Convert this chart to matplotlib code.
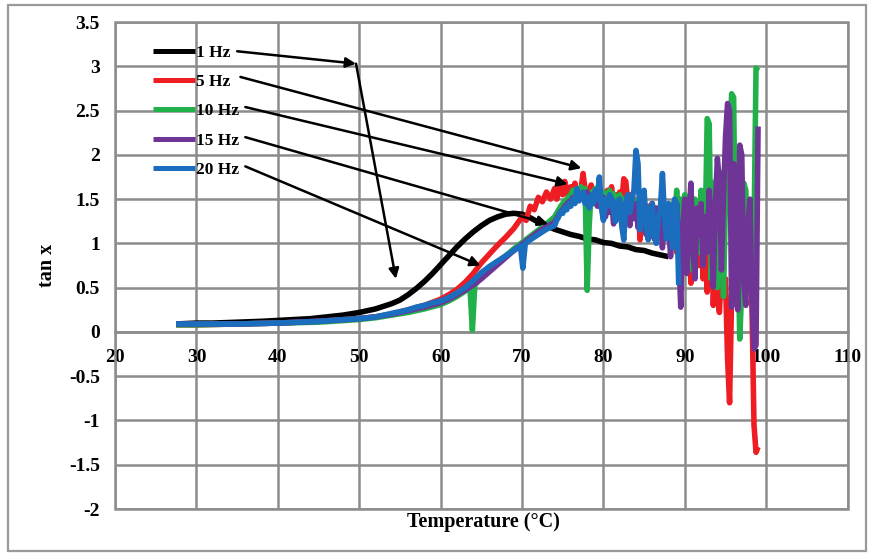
import matplotlib
matplotlib.use("Agg")
from matplotlib import pyplot as plt
from matplotlib.patches import Rectangle

plt.rcParams['axes.unicode_minus'] = False
plt.rcParams['font.family'] = ['Liberation Serif', 'DejaVu Serif']
plt.rcParams['font.weight'] = 'bold'

# 1 Hz
x_1hz = [27.5, 30, 32, 35, 38, 40, 42, 44, 46, 48, 50, 52, 54, 55, 56, 57, 58, 59, 60, 61,
         62, 63, 64, 65, 66, 67, 68, 69, 70, 71, 72, 73, 74, 75, 76, 77, 78, 79, 80, 81,
         82, 83, 84, 85, 86, 87, 88]
y_1hz = [0.09, 0.10, 0.10, 0.11, 0.12, 0.13, 0.14, 0.15, 0.17, 0.19, 0.22, 0.26, 0.32, 0.36,
         0.42, 0.49, 0.57, 0.66, 0.76, 0.86, 0.96, 1.05, 1.13, 1.20, 1.26, 1.30, 1.33, 1.34,
         1.33, 1.29, 1.24, 1.20, 1.16, 1.13, 1.10, 1.08, 1.05, 1.04, 1.01, 1.00, 0.97, 0.96,
         0.93, 0.92, 0.89, 0.87, 0.85]

# temperature grid for the noisy end of the runs
x_hot = [74.0, 74.25, 74.5, 74.75, 75.0, 75.25, 75.5, 75.75,
         76.0, 76.25, 76.5, 76.75, 77.0, 77.25, 77.5, 77.75,
         78.0, 78.25, 78.5, 78.75, 79.0, 79.25, 79.5, 79.75,
         80.0, 80.25, 80.5, 80.75, 81.0, 81.25, 81.5, 81.75,
         82.0, 82.25, 82.5, 82.75, 83.0, 83.25, 83.5, 83.75,
         84.0, 84.25, 84.5, 84.75, 85.0, 85.25, 85.5, 85.75,
         86.0, 86.25, 86.5, 86.75, 87.0, 87.25, 87.5, 87.75,
         88.0, 88.25, 88.5, 88.75, 89.0, 89.25, 89.5, 89.75,
         90.0, 90.25, 90.5, 90.75, 91.0, 91.25, 91.5, 91.75,
         92.0, 92.25, 92.5, 92.75, 93.0, 93.25, 93.5, 93.75,
         94.0, 94.25, 94.5, 94.75, 95.0, 95.25, 95.5, 95.75,
         96.0, 96.25, 96.5, 96.75, 97.0, 97.25, 97.5, 97.75,
         98.0, 98.25, 98.5, 98.75, 99.0]

# 5 Hz
x_5hz_low = [27.5, 30, 35, 40, 45, 50, 52, 54, 56, 58, 60, 61, 62, 63, 64, 65, 66, 67, 68, 69,
             70, 70.5, 71, 71.5, 72, 72.5, 73, 73.5]
y_5hz_low = [0.08, 0.08, 0.09, 0.10, 0.12, 0.15, 0.17, 0.20, 0.25, 0.30, 0.37, 0.42, 0.48, 0.56,
             0.66, 0.78, 0.88, 0.98, 1.07, 1.17, 1.30, 1.26, 1.42, 1.38, 1.52, 1.47, 1.58, 1.50]
y_5hz_hot = [1.62, 1.50, 1.58, 1.66, 1.55, 1.70, 1.60, 1.52,
             1.64, 1.55, 1.68, 1.50, 1.58, 1.62, 1.79, 1.60,
             1.48, 1.60, 1.66, 1.50, 1.45, 1.58, 1.62, 1.48,
             1.55, 1.42, 1.60, 1.50, 1.64, 1.40, 1.55, 1.48,
             1.58, 1.46, 1.73, 1.70, 1.45, 1.55, 1.40, 1.50,
             1.30, 1.45, 1.04, 1.35, 1.50, 1.20, 1.42, 1.30,
             1.45, 1.15, 1.38, 1.25, 1.10, 1.40, 1.05, 1.30,
             1.20, 0.95, 1.35, 1.10, 0.90, 1.25, 0.80, 1.15,
             1.30, 0.70, 1.10, 0.55, 1.25, 0.90, 1.40, 0.75,
             1.20, 0.60, 1.00, 0.45, 0.95, 1.30, 0.30, 0.85,
             0.45, 0.22, 0.70, 0.40, 0.60, -0.30, -0.80, 0.40,
             0.90, 0.50, 1.20, 0.70, 1.10, 0.40, 0.70, 1.00,
             1.20, 0.30, -1.05, -1.36, -1.30]

# 10 Hz
x_10hz_low = [27.5, 30, 35, 40, 45, 50, 52, 54, 56, 58, 60, 61, 62, 63, 63.6, 63.9, 64.2, 65, 66,
              67, 68, 69, 70, 71, 72, 73]
y_10hz_low = [0.08, 0.08, 0.09, 0.10, 0.11, 0.14, 0.16, 0.19, 0.22, 0.26, 0.31, 0.35, 0.40, 0.46,
              0.50, 0.02, 0.53, 0.62, 0.69, 0.78, 0.86, 0.94, 1.01, 1.08, 1.15, 1.22]
y_10hz_hot = [1.30, 1.34, 1.38, 1.42, 1.45, 1.48, 1.50, 1.53,
              1.55, 1.60, 1.58, 1.62, 1.57, 1.64, 1.60, 1.62,
              0.47, 1.20, 1.58, 1.55, 1.62, 1.50, 1.58, 1.52,
              1.58, 1.50, 1.55, 1.60, 1.48, 1.56, 1.45, 1.52,
              1.55, 1.42, 1.50, 1.45, 1.52, 1.38, 1.48, 1.40,
              1.48, 1.30, 1.42, 1.35, 1.45, 1.25, 1.40, 1.30,
              1.40, 1.20, 1.35, 1.15, 1.38, 1.10, 1.30, 1.20,
              1.30, 1.00, 1.45, 1.20, 1.60, 0.95, 1.50, 1.20,
              1.55, 0.80, 1.40, 1.10, 0.70, 1.50, 1.20, 0.90,
              1.60, 0.90, 1.10, 2.41, 2.35, 0.60, 1.20, 1.70,
              0.50, 1.40, 1.80, 0.40, 1.50, 1.60, 2.00, 2.69,
              2.65, 0.60, 1.20, -0.08, 0.50, 1.68, 1.60, 0.70,
              0.70, 0.90, 1.10, 2.98, 2.95]

# 15 Hz
x_15hz_low = [27.5, 30, 35, 40, 45, 50, 52, 54, 56, 58, 60, 61, 62, 63, 64, 65, 66, 67, 68, 69,
              70, 71, 72, 73]
y_15hz_low = [0.09, 0.09, 0.09, 0.10, 0.12, 0.15, 0.17, 0.20, 0.24, 0.28, 0.33, 0.37, 0.42, 0.47,
              0.53, 0.60, 0.68, 0.76, 0.84, 0.92, 0.99, 1.06, 1.13, 1.19]
y_15hz_hot = [1.24, 1.28, 1.32, 1.36, 1.38, 1.42, 1.44, 1.47,
              1.48, 1.52, 1.50, 1.55, 1.52, 1.56, 1.50, 1.55,
              1.58, 1.48, 1.55, 1.45, 1.55, 1.42, 1.52, 1.40,
              1.52, 1.30, 1.48, 1.35, 1.50, 1.22, 1.45, 1.30,
              1.45, 1.25, 1.40, 1.30, 1.50, 1.20, 1.42, 1.28,
              1.45, 1.18, 1.40, 1.25, 1.38, 1.10, 1.35, 1.20,
              1.45, 1.05, 1.40, 1.15, 1.30, 0.95, 1.35, 1.10,
              1.30, 0.85, 1.40, 1.10, 1.45, 0.90, 0.28, 1.20,
              1.50, 0.66, 1.30, 1.68, 0.90, 0.60, 1.40, 1.10,
              1.45, 0.75, 1.30, 0.90, 1.60, 1.20, 0.51, 1.40,
              1.96, 1.70, 0.70, 1.50, 2.20, 2.58, 2.50, 0.28,
              1.90, 1.60, 0.25, 2.11, 2.00, 0.55, 0.30, 1.20,
              1.50, 0.40, -0.19, -0.15, 2.32]

# 20 Hz
x_20hz = [27.5, 30, 35, 40, 45, 50, 52, 54, 56, 57, 58, 59, 60, 61, 62, 63, 64, 65, 66, 67, 68,
          69, 69.8, 70.1, 70.4, 71, 72, 73,
          74.0, 74.25, 74.5, 74.75, 75.0, 75.25, 75.5, 75.75,
          76.0, 76.25, 76.5, 76.75, 77.0, 77.25, 77.5, 77.75,
          78.0, 78.25, 78.5, 78.75, 79.0, 79.25, 79.5, 79.75,
          80.0, 80.25, 80.5, 80.75, 81.0, 81.25, 81.5, 81.75,
          82.0, 82.25, 82.5, 82.75, 83.0, 83.25, 83.5, 83.75,
          84.0, 84.25, 84.5, 84.75, 85.0, 85.25, 85.5, 85.75,
          86.0, 86.25, 86.5, 86.75, 87.0, 87.25, 87.5, 87.75,
          88.0, 88.25, 88.5, 88.75, 89.0, 89.25]
y_20hz = [0.09, 0.09, 0.09, 0.10, 0.12, 0.15, 0.17, 0.21, 0.25, 0.28, 0.30, 0.33, 0.35, 0.39,
          0.44, 0.50, 0.58, 0.67, 0.74, 0.80, 0.86, 0.92, 0.97, 0.72, 1.00, 1.04, 1.10, 1.16,
          1.20, 1.26, 1.30, 1.36, 1.34, 1.40, 1.38, 1.45,
          1.42, 1.50, 1.45, 1.62, 1.48, 1.52, 1.58, 1.45,
          1.52, 1.40, 1.55, 1.45, 1.60, 1.50, 1.75, 1.40,
          1.26, 1.50, 1.42, 1.55, 1.50, 1.35, 1.25, 1.48,
          1.50, 1.20, 1.04, 1.45, 1.55, 1.35, 1.50, 1.60,
          2.05, 1.90, 1.15, 1.45, 1.60, 1.20, 1.04, 1.40,
          1.45, 1.10, 1.00, 1.30, 1.40, 1.79, 1.30, 1.05,
          1.45, 1.20, 0.95, 1.50, 1.45, 0.53]

labels = ["1 Hz", "5 Hz", "10 Hz", "15 Hz", "20 Hz"]
colors = ["#000000", "#EE1D23", "#22B04B", "#6E3596", "#1B6DBE"]

y_ticks = [-2, -1.5, -1, -0.5, 0, 0.5, 1, 1.5, 2, 2.5, 3, 3.5]
y_tick_labels = ["-2", "-1.5", "-1", "-0.5", "0", "0.5", "1", "1.5", "2", "2.5", "3", "3.5"]
x_ticks = [20, 30, 40, 50, 60, 70, 80, 90, 100, 110]

# label end -> arrow tip (data coords)
arrows = [((35.0, 3.17), (49.6, 3.03)),
          ((49.6, 3.03), (54.5, 0.60)),
          ((35.4, 2.88), (77.3, 1.85)),
          ((36.0, 2.54), (75.6, 1.67)),
          ((36.0, 2.20), (73.2, 1.22)),
          ((36.0, 1.87), (64.9, 0.75))]


def main():
    fig = plt.figure(figsize=(8.72, 5.54), dpi=100)
    ax = fig.add_axes([0.132, 0.0812, 0.840, 0.879])
    grey = "#8c8c8c"

    series = [(x_1hz, y_1hz),
              (x_5hz_low + x_hot, y_5hz_low + y_5hz_hot),
              (x_10hz_low + x_hot, y_10hz_low + y_10hz_hot),
              (x_15hz_low + x_hot, y_15hz_low + y_15hz_hot),
              (x_20hz, y_20hz)]
    for (xs, ys), lab, col in zip(series, labels, colors):
        ax.plot(xs, ys, color=col, lw=4.0, label=lab, solid_joinstyle='round',
                solid_capstyle='butt', zorder=3)

    ax.set_xlim(20, 110)
    ax.set_ylim(-2, 3.5)
    ax.set_xticks(x_ticks)
    ax.set_yticks(y_ticks)
    ax.set_yticklabels(y_tick_labels)
    ax.grid(True, color=grey, lw=1.8)
    ax.set_axisbelow(True)

    for s in ['top', 'right', 'left']:
        ax.spines[s].set_visible(False)
    ax.spines['bottom'].set_position(('data', 0))
    ax.spines['bottom'].set_color(grey)
    ax.spines['bottom'].set_linewidth(1.8)
    ax.add_patch(Rectangle((0, 0), 1, 1, transform=ax.transAxes, fill=False,
                           ec=grey, lw=1.8, clip_on=False, zorder=2))
    ax.tick_params(axis='both', length=0, labelsize=14)
    ax.tick_params(axis='x', pad=12)
    ax.tick_params(axis='y', pad=11)

    for (x0, y0), (x1, y1) in arrows:
        ax.annotate("", xy=(x1, y1), xytext=(x0, y0),
                    arrowprops=dict(arrowstyle='-|>', color='black', lw=1.8,
                                    mutation_scale=15, shrinkA=0, shrinkB=0),
                    zorder=4)

    leg = ax.legend(loc='upper left', bbox_to_anchor=(0.052, 0.954), frameon=False,
                    fontsize=12.5, handlelength=2.4, handletextpad=0.05,
                    labelspacing=0.76, borderpad=0, borderaxespad=0)
    for h in leg.get_lines():
        h.set_linewidth(3.6)

    fig.text(483 / 872, 1 - 522 / 554, "Temperature (\u00b0C)", ha='center', va='center',
             fontsize=14.5, fontweight='bold')
    fig.text(47 / 872, 1 - 265 / 554, "tan x", ha='center', va='center', rotation=90,
             fontsize=14.5, fontweight='bold')

    fig.patches.append(Rectangle((8 / 872, 1 - 551 / 554), 858 / 872, 546 / 554,
                                 transform=fig.transFigure, fill=False, ec="#999999", lw=1.6))

    plt.savefig("out.png", format="PNG", dpi=100)


if __name__ == "__main__":
    main()
